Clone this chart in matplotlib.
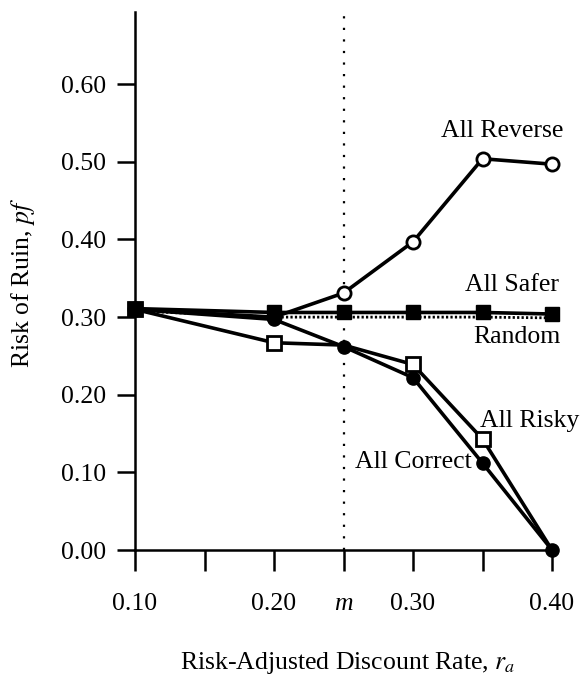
import matplotlib
matplotlib.use("Agg")
import matplotlib.pyplot as plt
import numpy as np

plt.rcParams["font.family"] = ["Liberation Serif", "DejaVu Serif"]
plt.rcParams["mathtext.fontset"] = "stix"

# discount rates (m = 0.25)
rates = [0.10, 0.20, 0.25, 0.30, 0.35, 0.40]

all_reverse = [0.310, 0.300, 0.331, 0.397, 0.504, 0.497]
all_safer = [0.311, 0.306, 0.306, 0.306, 0.306, 0.304]
random_pf = [0.308, 0.300, 0.300, 0.300, 0.300, 0.299]
all_risky = [0.310, 0.267, 0.264, 0.239, 0.143, 0.000]
all_correct = [0.310, 0.297, 0.262, 0.222, 0.112, 0.000]

x_ticks = [0.10, 0.15, 0.20, 0.25, 0.30, 0.35, 0.40]
x_tick_labels = ["0.10", "", "0.20", "m", "0.30", "", "0.40"]
y_ticks = [0.00, 0.10, 0.20, 0.30, 0.40, 0.50, 0.60]
y_tick_labels = ["0.00", "0.10", "0.20", "0.30", "0.40", "0.50", "0.60"]

fig = plt.figure(figsize=(5.85, 6.82), dpi=100)
ax = fig.add_axes([0.2308, 0.1935, 0.7128, 0.7889])

ax.axvline(0.25, color="black", lw=1.6, ls=(0, (1, 4.2)), zorder=1)

lw = 2.6
ax.plot(rates, all_reverse, color="black", lw=lw, marker="o", ms=9.5,
        mfc="white", mec="black", mew=2, zorder=2, clip_on=False)
ax.plot(rates, random_pf, color="black", lw=2, ls=(0, (0.8, 0.8)), zorder=3, clip_on=False)
# squares hidden under the filled circles at m and 0.40 in the original
ax.plot(rates, all_risky, color="black", lw=lw, marker="s", ms=9.5,
        mfc="white", mec="black", mew=2, zorder=4, clip_on=False,
        markevery=[0, 1, 3, 4])
ax.plot(rates, all_correct, color="black", lw=lw, marker="o", ms=9.5,
        mfc="black", mec="black", zorder=5, clip_on=False)
ax.plot(rates, all_safer, color="black", lw=lw, marker="s", ms=10,
        mfc="black", mec="black", zorder=6, clip_on=False)

fs = 18.5
ax.text(0.364, 0.540, "All Reverse", ha="center", va="center", fontsize=fs)
ax.text(0.371, 0.342, "All Safer", ha="center", va="center", fontsize=fs)
ax.text(0.375, 0.275, "Random", ha="center", va="center", fontsize=fs)
ax.text(0.384, 0.166, "All Risky", ha="center", va="center", fontsize=fs)
ax.text(0.300, 0.113, "All Correct", ha="center", va="center", fontsize=fs)

ax.set_xlim(0.10, 0.40)
ax.set_ylim(0.0, 0.693)
ax.set_xticks(x_ticks)
ax.set_xticklabels(x_tick_labels, fontsize=fs)
ax.get_xticklabels()[3].set_style("italic")
ax.set_yticks(y_ticks)
ax.set_yticklabels(y_tick_labels, fontsize=fs)
ax.tick_params(axis="x", direction="out", length=15, width=1.8, pad=16)
ax.tick_params(axis="y", direction="out", length=13, width=1.8, pad=8)

for side in ["top", "right"]:
    ax.spines[side].set_visible(False)
ax.spines["left"].set_linewidth(1.8)
ax.spines["bottom"].set_linewidth(1.8)

fig.text(23 / 585, 1 - 283 / 682, "Risk of Ruin, $pf$", rotation=90,
         ha="center", va="center", fontsize=fs)
fig.text(348 / 585, 1 - 663 / 682, "Risk-Adjusted Discount Rate, $r_a$",
         ha="center", va="center", fontsize=fs)

fig.savefig("out.png", dpi=100)
